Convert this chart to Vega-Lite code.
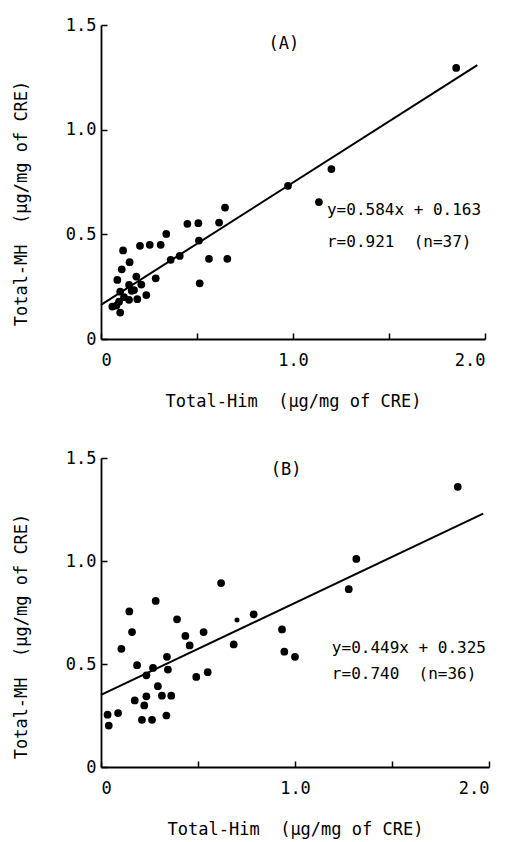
{
  "$schema": "https://vega.github.io/schema/vega-lite/v6.json",
  "background": "white",
  "padding": {"left": 12, "top": 16, "right": 5, "bottom": 5},
  "spacing": 40,
  "config": {
    "view": {"stroke": null},
    "font": "DejaVu Sans Mono",
    "axis": {
      "grid": false,
      "domainColor": "black",
      "domainWidth": 1.8,
      "tickColor": "black",
      "tickWidth": 1.5,
      "tickSize": -6,
      "labelFont": "DejaVu Sans Mono",
      "labelFontSize": 17,
      "labelColor": "black",
      "titleFont": "DejaVu Sans Mono",
      "titleFontSize": 17,
      "titleFontWeight": "normal",
      "titleColor": "black"
    },
    "axisX": {"labelPadding": 19, "titlePadding": 25},
    "axisY": {"labelPadding": 11, "titlePadding": 35, "titleY": 178}
  },
  "vconcat": [
    {
      "width": 384,
      "height": 314,
      "layer": [
        {
          "data": {"values": [
            {"x": 0.059, "y": 0.155}, {"x": 0.10, "y": 0.126}, {"x": 0.094, "y": 0.178}, {"x": 0.10, "y": 0.226},
            {"x": 0.146, "y": 0.187}, {"x": 0.189, "y": 0.19}, {"x": 0.236, "y": 0.21}, {"x": 0.085, "y": 0.282},
            {"x": 0.146, "y": 0.258}, {"x": 0.172, "y": 0.234}, {"x": 0.184, "y": 0.298}, {"x": 0.108, "y": 0.333},
            {"x": 0.149, "y": 0.367}, {"x": 0.115, "y": 0.423}, {"x": 0.203, "y": 0.445}, {"x": 0.254, "y": 0.45},
            {"x": 0.311, "y": 0.45}, {"x": 0.34, "y": 0.502}, {"x": 0.285, "y": 0.29}, {"x": 0.363, "y": 0.378},
            {"x": 0.41, "y": 0.397}, {"x": 0.45, "y": 0.55}, {"x": 0.507, "y": 0.553}, {"x": 0.51, "y": 0.47},
            {"x": 0.514, "y": 0.266}, {"x": 0.5625, "y": 0.383}, {"x": 0.615, "y": 0.556}, {"x": 0.646, "y": 0.628},
            {"x": 0.658, "y": 0.383}, {"x": 1.85, "y": 1.295}, {"x": 1.2, "y": 0.812}, {"x": 0.974, "y": 0.732},
            {"x": 1.135, "y": 0.654}, {"x": 0.12, "y": 0.2}, {"x": 0.08, "y": 0.16}, {"x": 0.16, "y": 0.23},
            {"x": 0.21, "y": 0.26}
          ]},
          "mark": {"type": "point", "filled": true, "color": "black", "opacity": 1, "size": 60},
          "encoding": {
            "x": {"field": "x", "type": "quantitative", "scale": {"domain": [0, 2], "nice": false},
              "title": "Total-Him\u00a0\u00a0(µg/mg of CRE)",
              "axis": {"values": [0, 0.5, 1, 1.5, 2], "labelExpr": "datum.value == 0 ? '0' : (datum.value % 1 == 0 ? format(datum.value, '.1f') : '')"}},
            "y": {"field": "y", "type": "quantitative", "scale": {"domain": [0, 1.5], "nice": false},
              "title": "Total-MH\u00a0\u00a0(µg/mg of CRE)",
              "axis": {"values": [0, 0.5, 1, 1.5], "labelExpr": "datum.value == 0 ? '0' : format(datum.value, '.1f')"}}
          }
        },
        {
          "data": {"values": [{"x": 0, "y": 0.163}, {"x": 1.96, "y": 1.308}]},
          "mark": {"type": "line", "color": "black", "strokeWidth": 2},
          "encoding": {"x": {"field": "x", "type": "quantitative"}, "y": {"field": "y", "type": "quantitative"}}
        },
        {
          "data": {"values": [
            {"x": 1.177, "y": 0.617, "t": "y=0.584x + 0.163"},
            {"x": 1.177, "y": 0.464, "t": "r=0.921\u00a0\u00a0(n=37)"}
          ]},
          "mark": {"type": "text", "align": "left", "baseline": "middle", "fontSize": 16, "color": "black"},
          "encoding": {"x": {"field": "x", "type": "quantitative"}, "y": {"field": "y", "type": "quantitative"}, "text": {"field": "t"}}
        },
        {
          "data": {"values": [{"x": 0.953, "y": 1.407, "t": "(A)"}]},
          "mark": {"type": "text", "align": "center", "baseline": "middle", "fontSize": 17, "color": "black"},
          "encoding": {"x": {"field": "x", "type": "quantitative"}, "y": {"field": "y", "type": "quantitative"}, "text": {"field": "t"}}
        }
      ]
    },
    {
      "width": 388,
      "height": 309,
      "layer": [
        {
          "data": {"values": [
            {"x": 0.034, "y": 0.254}, {"x": 0.04, "y": 0.201}, {"x": 0.088, "y": 0.262}, {"x": 0.105, "y": 0.574},
            {"x": 0.146, "y": 0.755}, {"x": 0.16, "y": 0.655}, {"x": 0.186, "y": 0.494}, {"x": 0.174, "y": 0.323},
            {"x": 0.211, "y": 0.229}, {"x": 0.223, "y": 0.299}, {"x": 0.234, "y": 0.343}, {"x": 0.234, "y": 0.445},
            {"x": 0.263, "y": 0.229}, {"x": 0.268, "y": 0.481}, {"x": 0.282, "y": 0.806}, {"x": 0.293, "y": 0.392},
            {"x": 0.314, "y": 0.346}, {"x": 0.34, "y": 0.535}, {"x": 0.345, "y": 0.473}, {"x": 0.337, "y": 0.25},
            {"x": 0.362, "y": 0.346}, {"x": 0.392, "y": 0.717}, {"x": 0.435, "y": 0.636}, {"x": 0.457, "y": 0.59},
            {"x": 0.491, "y": 0.437}, {"x": 0.529, "y": 0.655}, {"x": 0.55, "y": 0.46}, {"x": 0.619, "y": 0.893},
            {"x": 1.839, "y": 1.36}, {"x": 1.316, "y": 1.01}, {"x": 1.277, "y": 0.863}, {"x": 0.787, "y": 0.741},
            {"x": 0.684, "y": 0.595}, {"x": 0.933, "y": 0.668}, {"x": 0.945, "y": 0.56}, {"x": 1.0, "y": 0.535}
          ]},
          "mark": {"type": "point", "filled": true, "color": "black", "opacity": 1, "size": 60},
          "encoding": {
            "x": {"field": "x", "type": "quantitative", "scale": {"domain": [0, 2], "nice": false},
              "title": "Total-Him\u00a0\u00a0(µg/mg of CRE)",
              "axis": {"values": [0, 0.5, 1, 1.5, 2], "labelExpr": "datum.value == 0 ? '0' : (datum.value % 1 == 0 ? format(datum.value, '.1f') : '')"}},
            "y": {"field": "y", "type": "quantitative", "scale": {"domain": [0, 1.5], "nice": false},
              "title": "Total-MH\u00a0\u00a0(µg/mg of CRE)",
              "axis": {"values": [0, 0.5, 1, 1.5], "labelExpr": "datum.value == 0 ? '0' : format(datum.value, '.1f')"}}
          }
        },
        {
          "data": {"values": [{"x": 0.701, "y": 0.714}]},
          "mark": {"type": "point", "filled": true, "color": "black", "opacity": 1, "size": 25},
          "encoding": {"x": {"field": "x", "type": "quantitative"}, "y": {"field": "y", "type": "quantitative"}}
        },
        {
          "data": {"values": [{"x": 0, "y": 0.35}, {"x": 1.97, "y": 1.23}]},
          "mark": {"type": "line", "color": "black", "strokeWidth": 2},
          "encoding": {"x": {"field": "x", "type": "quantitative"}, "y": {"field": "y", "type": "quantitative"}}
        },
        {
          "data": {"values": [
            {"x": 1.19, "y": 0.58, "t": "y=0.449x + 0.325"},
            {"x": 1.19, "y": 0.45, "t": "r=0.740\u00a0\u00a0(n=36)"}
          ]},
          "mark": {"type": "text", "align": "left", "baseline": "middle", "fontSize": 16, "color": "black"},
          "encoding": {"x": {"field": "x", "type": "quantitative"}, "y": {"field": "y", "type": "quantitative"}, "text": {"field": "t"}}
        },
        {
          "data": {"values": [{"x": 0.954, "y": 1.44, "t": "(B)"}]},
          "mark": {"type": "text", "align": "center", "baseline": "middle", "fontSize": 17, "color": "black"},
          "encoding": {"x": {"field": "x", "type": "quantitative"}, "y": {"field": "y", "type": "quantitative"}, "text": {"field": "t"}}
        }
      ]
    }
  ]
}
